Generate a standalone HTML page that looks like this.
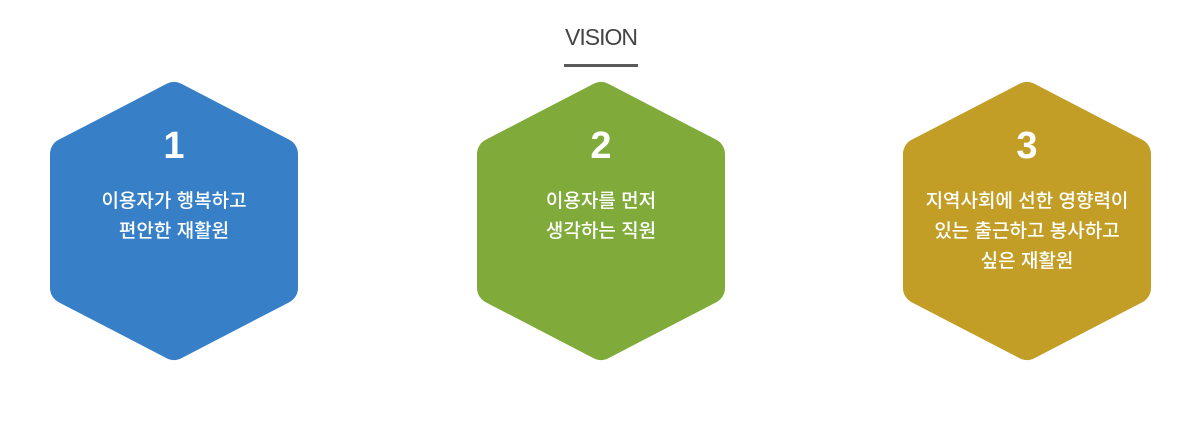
<!DOCTYPE html>
<html><head><meta charset="utf-8"><style>
html,body{margin:0;padding:0;background:#fff;}
body{width:1204px;height:437px;position:relative;overflow:hidden;font-family:"Liberation Sans","Noto Sans CJK KR",sans-serif;}
.title{position:absolute;left:0;width:1202px;top:24px;text-align:center;font-size:23px;color:#444;letter-spacing:-1px;}
.bar{position:absolute;left:564px;top:64px;width:74px;height:3px;background:#5a5a5a;}
svg{position:absolute;left:0;top:0;}
.t{position:absolute;width:260px;text-align:center;color:#fff;}
.n{font-size:38px;font-weight:bold;top:125px;}
.d{font-size:19px;line-height:30px;top:187px;font-weight:500;}
</style></head><body>
<div class="title">VISION</div>
<div class="bar"></div>
<svg width="1204" height="437">
<polygon points="174,98 282,154 282,288 174,344 66,288 66,154" fill="#3780c8" stroke="#3780c8" stroke-width="32" stroke-linejoin="round"/>
<polygon points="601,98 709,154 709,288 601,344 493,288 493,154" fill="#80ab3b" stroke="#80ab3b" stroke-width="32" stroke-linejoin="round"/>
<polygon points="1027,98 1135,154 1135,288 1027,344 919,288 919,154" fill="#c29e27" stroke="#c29e27" stroke-width="32" stroke-linejoin="round"/>
</svg>
<div class="t n" style="left:44px">1</div>
<div class="t d" style="left:44px">이용자가 행복하고<br>편안한 재활원</div>
<div class="t n" style="left:471px">2</div>
<div class="t d" style="left:471px">이용자를 먼저<br>생각하는 직원</div>
<div class="t n" style="left:897px">3</div>
<div class="t d" style="left:897px">지역사회에 선한 영향력이<br>있는 출근하고 봉사하고<br>싶은 재활원</div>
</body></html>
